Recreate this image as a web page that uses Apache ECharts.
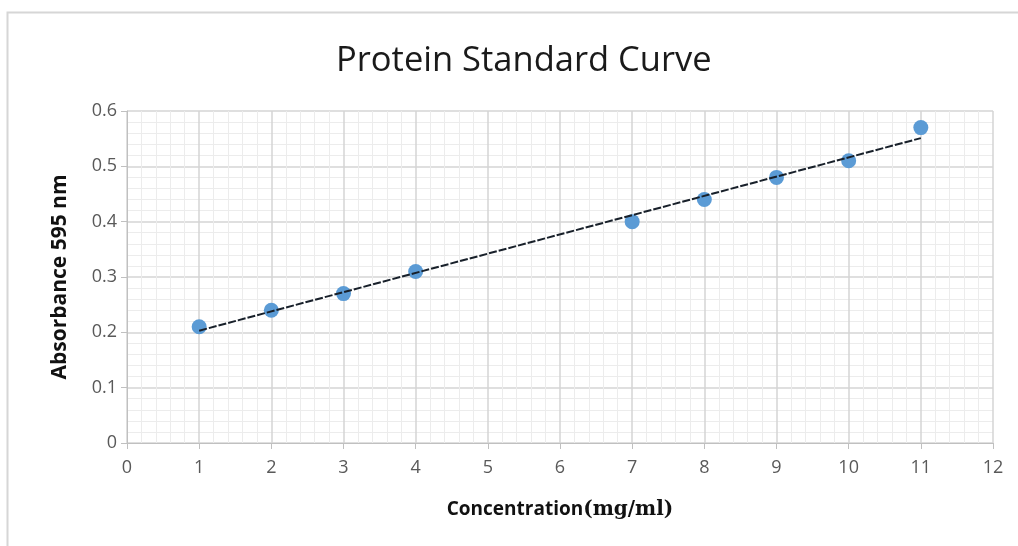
<!DOCTYPE html>
<html>
<head>
<meta charset="utf-8">
<script src="https://cdn.jsdelivr.net/npm/echarts@6/dist/echarts.min.js"></script>
<style>
html,body{margin:0;padding:0;background:#fff;}
#main{width:1018px;height:546px;}
</style>
</head>
<body>
<div id="main"></div>
<script>
// 数据
var concentration = [1, 2, 3, 4, 7, 8, 9, 10, 11];
var absorbance = [0.21, 0.24, 0.27, 0.31, 0.40, 0.44, 0.48, 0.51, 0.57];
// 趋势线两端
var trendX = [1, 11];
var trendY = [0.203, 0.551];

var points = concentration.map(function (x, i) { return [x, absorbance[i]]; });
var trend = trendX.map(function (x, i) { return [x, trendY[i]]; });

var option = {
    animation: false,
    title: {
        text: "Protein Standard Curve",
        left: 331,
        top: 39,
        textStyle: {
            fontFamily: "Open Sans",
            fontWeight: "normal",
            fontSize: 34.5,
            color: "#1a1a1a"
        }
    },
    graphic: [{
        type: "rect",
        shape: { x: 7.5, y: 12.5, width: 1030, height: 560 },
        style: { fill: null, stroke: "#d6d6d6", lineWidth: 2 }
    }],
    grid: { left: 127, right: 25, top: 111, bottom: 103 },
    xAxis: {
        type: "value",
        min: 0,
        max: 12,
        interval: 1,
        name: "{a|Concentration}{b|(mg/ml)}",
        nameLocation: "middle",
        nameGap: 57,
        nameTextStyle: {
            rich: {
                a: { fontFamily: "Open Sans", fontWeight: "bold", fontSize: 19, color: "#111" },
                b: { fontFamily: "DejaVu Serif", fontWeight: "bold", fontSize: 20, color: "#111" }
            }
        },
        axisLine: { show: true, lineStyle: { color: "#c0c0c0" } },
        axisTick: { show: true, length: 6, lineStyle: { color: "#c0c0c0" } },
        axisLabel: { fontFamily: "Open Sans", fontSize: 18, color: "#595959", margin: 16 },
        splitLine: { show: true, lineStyle: { color: "#d4d4d4", width: 1.5 } },
        minorTick: { show: false, splitNumber: 5 },
        minorSplitLine: { show: true, lineStyle: { color: "#ececec" } }
    },
    yAxis: {
        type: "value",
        min: 0,
        max: 0.6,
        interval: 0.1,
        name: "Absorbance 595 nm",
        nameLocation: "middle",
        nameGap: 56,
        nameTextStyle: { fontFamily: "Open Sans", fontWeight: "bold", fontSize: 21, color: "#111" },
        axisLine: { show: true, lineStyle: { color: "#c0c0c0" } },
        axisTick: { show: true, length: 6, lineStyle: { color: "#c0c0c0" } },
        axisLabel: { fontFamily: "Open Sans", fontSize: 18, color: "#595959", margin: 10 },
        splitLine: { show: true, lineStyle: { color: "#d4d4d4", width: 1.5 } },
        minorTick: { show: false, splitNumber: 5 },
        minorSplitLine: { show: true, lineStyle: { color: "#ececec" } }
    },
    series: [{
        type: "line",
        name: "trend",
        data: trend,
        symbol: "none",
        z: 3,
        lineStyle: { color: "#18202a", width: 2, type: [8, 2] }
    }, {
        type: "scatter",
        name: "Absorbance",
        data: points,
        symbolSize: 15,
        z: 2,
        itemStyle: { color: "#5b9bd5", opacity: 1 }
    }]
};

var eChart = echarts.init(document.getElementById("main"));
eChart.setOption(option);
</script>
</body>
</html>
